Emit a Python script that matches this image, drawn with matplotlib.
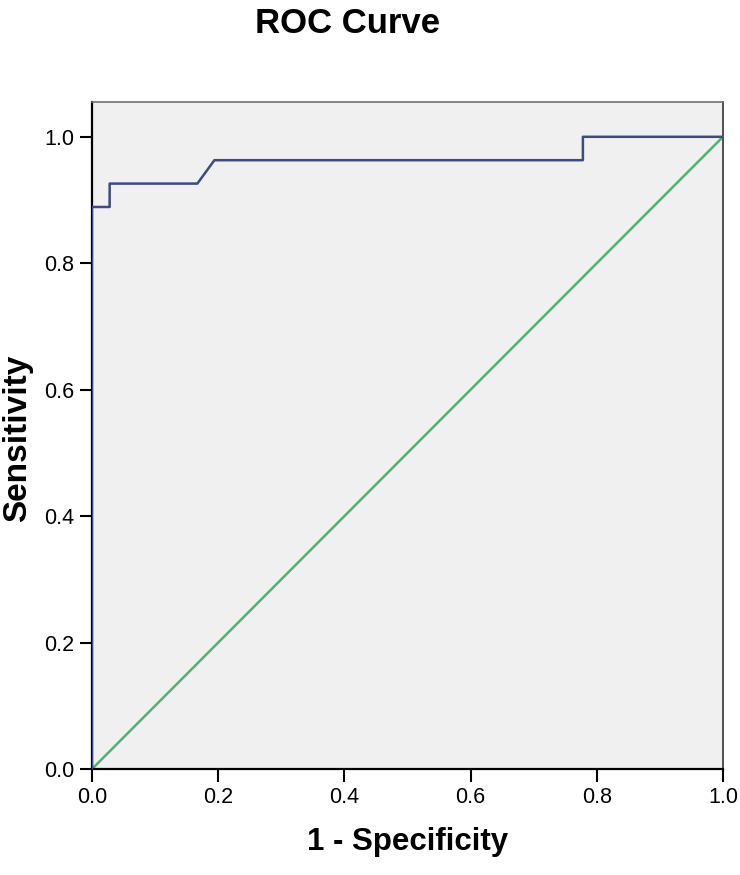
import matplotlib
matplotlib.use("Agg")
import matplotlib.pyplot as plt

plt.rcParams["font.family"] = ["Liberation Sans", "DejaVu Sans"]

# ROC curve points (1 - specificity, sensitivity)
fpr = [0.0, 0.0, 0.028, 0.028, 0.167, 0.194, 0.778, 0.778, 1.0]
tpr = [0.0, 0.889, 0.889, 0.926, 0.926, 0.963, 0.963, 1.0, 1.0]
ref_x = [0.0, 1.0]
ref_y = [0.0, 1.0]
ticks = [0.0, 0.2, 0.4, 0.6, 0.8, 1.0]
tick_labels = ["0.0", "0.2", "0.4", "0.6", "0.8", "1.0"]

fig = plt.figure(figsize=(7.4, 8.75), dpi=100)
ax = fig.add_axes([0.1243, 0.1211, 0.8527, 0.7623])
ax.set_facecolor("#f0f0f0")

ax.plot(ref_x, ref_y, color="#4fb36e", lw=1.8, zorder=2)
ax.plot(fpr, tpr, color="#3d4a84", lw=1.8, zorder=3)

ax.set_xlim(0, 1)
ax.set_ylim(0, 1.055)
ax.set_xticks(ticks)
ax.set_xticklabels(tick_labels)
ax.set_yticks(ticks)
ax.set_yticklabels(tick_labels)
ax.tick_params(axis="both", direction="out", length=9, width=1.5,
               labelsize=15.5, pad=4, colors="black")

for side in ["left", "bottom"]:
    ax.spines[side].set_linewidth(1.6)
    ax.spines[side].set_color("black")
ax.spines["top"].set_color("#707070")
ax.spines["top"].set_linewidth(1.2)
ax.spines["right"].set_color("#505050")
ax.spines["right"].set_linewidth(1.4)

ax.set_xlabel("1 - Specificity", fontsize=22.5, fontweight="bold", va="center")
ax.xaxis.set_label_coords(0.5, -0.11)
ax.set_ylabel("Sensitivity", fontsize=24, fontweight="bold", va="center")
ax.yaxis.set_label_coords(-0.118, 0.496)
fig.suptitle("ROC Curve", x=0.470, y=0.962, fontsize=25, fontweight="bold",
             ha="center", va="baseline")

fig.savefig("out.png", dpi=100, facecolor="white")
